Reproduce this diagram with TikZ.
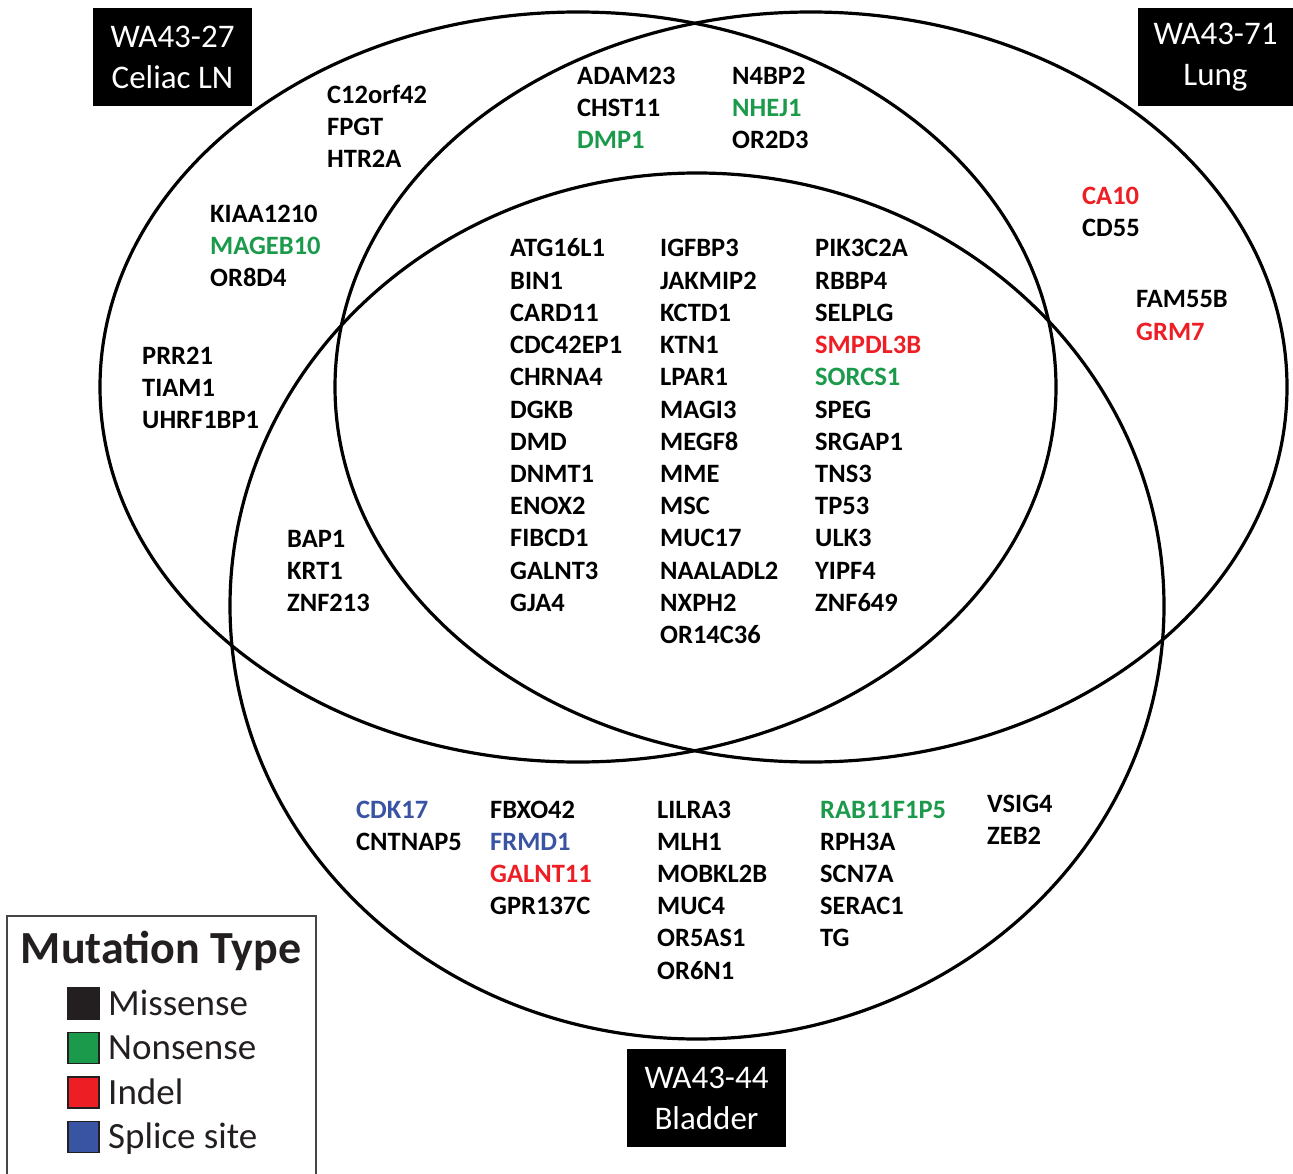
\documentclass[tikz,border=0pt]{standalone}
\usepackage{fontspec}
\setmainfont{Carlito}
\definecolor{miss}{RGB}{35,31,32}
\definecolor{nons}{RGB}{26,154,74}
\definecolor{indel}{RGB}{237,30,36}
\definecolor{splice}{RGB}{58,84,164}
\definecolor{legline}{RGB}{70,70,70}
\begin{document}
\begin{tikzpicture}[x=1pt,y=-1pt,
  gene/.style={anchor=base west,inner sep=0pt,font=\bfseries\fontsize{26.5}{32}\selectfont},
  sample/.style={fill=black,text=white,align=center,inner sep=0pt,minimum width=159,minimum height=98,font=\fontsize{33}{41}\selectfont},
  venn/.style={line width=3.2pt},
  swatch/.style={draw=miss,line width=1.5pt,minimum size=31,inner sep=0pt}]
\useasboundingbox (0,0) rectangle (1293,1174);
\draw[venn] (578,387) ellipse [x radius=478,y radius=375];
\draw[venn] (811,387) ellipse [x radius=476,y radius=375];
\draw[venn] (697,606) ellipse [x radius=467,y radius=433];
\node[sample] (ln) at (172.5,57) {WA43-27\\Celiac LN};
\node[sample,minimum width=155] (lung) at (1215.5,57) {WA43-71\\Lung};
\node[sample] (bladder) at (706.5,1098) {WA43-44\\Bladder};
\foreach \g/\c [count=\i from 0] in {C12orf42/black,FPGT/black,HTR2A/black}
  \node[gene,text=\c] (la\i) at (327,{104+32*\i}) {\g};
\foreach \g/\c [count=\i from 0] in {KIAA1210/black,MAGEB10/nons,OR8D4/black}
  \node[gene,text=\c] (lb\i) at (210,{223+32*\i}) {\g};
\foreach \g/\c [count=\i from 0] in {PRR21/black,TIAM1/black,UHRF1BP1/black}
  \node[gene,text=\c] (lc\i) at (142,{364+32*\i}) {\g};
\foreach \g/\c [count=\i from 0] in {ADAM23/black,CHST11/black,DMP1/nons}
  \node[gene,text=\c] (ta\i) at (577,{85+32*\i}) {\g};
\foreach \g/\c [count=\i from 0] in {N4BP2/black,NHEJ1/nons,OR2D3/black}
  \node[gene,text=\c] (tb\i) at (732,{85+32*\i}) {\g};
\foreach \g/\c [count=\i from 0] in {CA10/indel,CD55/black}
  \node[gene,text=\c] (ra\i) at (1082,{205+32*\i}) {\g};
\foreach \g/\c [count=\i from 0] in {FAM55B/black,GRM7/indel}
  \node[gene,text=\c] (rb\i) at (1136,{308+32*\i}) {\g};
\foreach \g/\c [count=\i from 0] in {ATG16L1/black,BIN1/black,CARD11/black,CDC42EP1/black,CHRNA4/black,DGKB/black,DMD/black,DNMT1/black,ENOX2/black,FIBCD1/black,GALNT3/black,GJA4/black}
  \node[gene,text=\c] (ca\i) at (510,{257+32.2*\i}) {\g};
\foreach \g/\c [count=\i from 0] in {IGFBP3/black,JAKMIP2/black,KCTD1/black,KTN1/black,LPAR1/black,MAGI3/black,MEGF8/black,MME/black,MSC/black,MUC17/black,NAALADL2/black,NXPH2/black,OR14C36/black}
  \node[gene,text=\c] (cb\i) at (660,{257+32.2*\i}) {\g};
\foreach \g/\c [count=\i from 0] in {PIK3C2A/black,RBBP4/black,SELPLG/black,SMPDL3B/indel,SORCS1/nons,SPEG/black,SRGAP1/black,TNS3/black,TP53/black,ULK3/black,YIPF4/black,ZNF649/black}
  \node[gene,text=\c] (cc\i) at (815,{257+32.2*\i}) {\g};
\foreach \g/\c [count=\i from 0] in {BAP1/black,KRT1/black,ZNF213/black}
  \node[gene,text=\c] (lbo\i) at (287,{547+32*\i}) {\g};
\foreach \g/\c [count=\i from 0] in {CDK17/splice,CNTNAP5/black}
  \node[gene,text=\c] (ba\i) at (356,{818+32*\i}) {\g};
\foreach \g/\c [count=\i from 0] in {FBXO42/black,FRMD1/splice,GALNT11/indel,GPR137C/black}
  \node[gene,text=\c] (bb\i) at (490,{818+32*\i}) {\g};
\foreach \g/\c [count=\i from 0] in {LILRA3/black,MLH1/black,MOBKL2B/black,MUC4/black,OR5AS1/black,OR6N1/black}
  \node[gene,text=\c] (bc\i) at (657,{818+32.2*\i}) {\g};
\foreach \g/\c [count=\i from 0] in {RAB11F1P5/nons,RPH3A/black,SCN7A/black,SERAC1/black,TG/black}
  \node[gene,text=\c] (bd\i) at (820,{818+32*\i}) {\g};
\foreach \g/\c [count=\i from 0] in {VSIG4/black,ZEB2/black}
  \node[gene,text=\c] (be\i) at (987,{812+32*\i}) {\g};
\draw[line width=2pt,legline] (7,1174) |- (316,916) -- (316,1174);
\node[font=\bfseries\fontsize{46}{50}\selectfont,text=miss,anchor=base,inner sep=0pt] (legtitle) at (161,963) {Mutation Type};
\foreach \t/\c [count=\i from 0] in {Missense/miss,Nonsense/nons,Indel/indel,Splice site/splice} {
  \node[swatch,fill=\c] (sq\i) at (83.5,{1003.5+44.5*\i}) {};
  \node[anchor=base west,inner sep=0pt,text=miss,font=\fontsize{37}{40}\selectfont] (lg\i) at (108,{1015+44.5*\i}) {\t};
}
\end{tikzpicture}
\end{document}
